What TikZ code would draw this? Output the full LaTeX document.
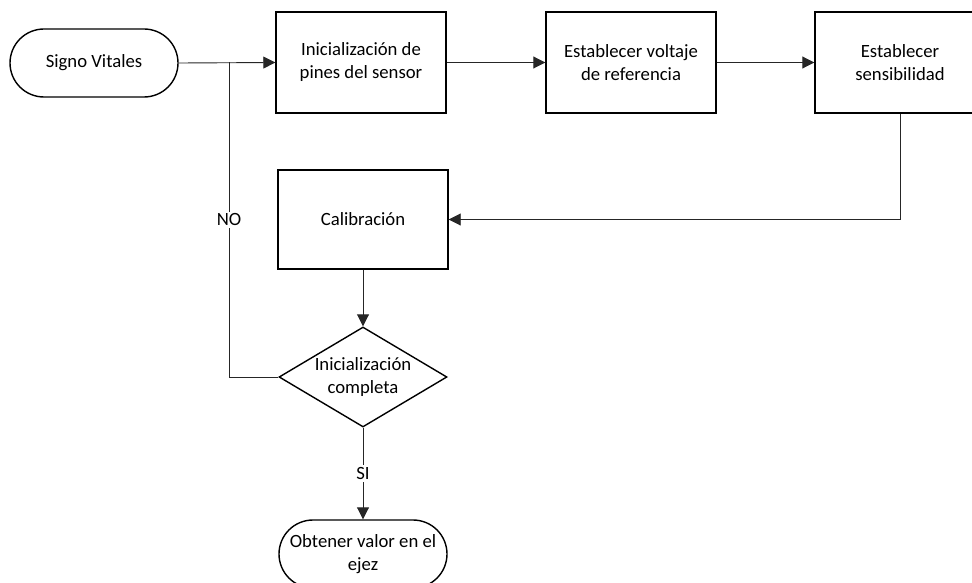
\documentclass[tikz,border=0pt]{standalone}
\usepackage{fontspec}
\setmainfont{Carlito}
\usetikzlibrary{arrows.meta,shapes.geometric}
\begin{document}
\begin{tikzpicture}[x=1pt,y=-1pt,
  every node/.style={font=\fontsize{18.7}{23}\selectfont, align=center},
  stepbox/.style={draw, line width=1.4pt, minimum width=170pt, minimum height=101pt, inner sep=0pt},
  term/.style={draw, line width=1.4pt, rounded corners=34pt, minimum width=168pt, minimum height=68pt, inner sep=0pt},
  decision/.style={draw, diamond, line width=1.4pt, minimum width=168pt, minimum height=100pt, inner sep=0pt},
  link/.style={line width=0.9pt, draw=black!85},
  arrow/.style={link, -{Triangle[length=12pt,width=12pt]}},
  tag/.style={fill=white, inner sep=2pt}]
\useasboundingbox (0,0) rectangle (972,583);
\clip (0,0) rectangle (972,583);

% process chain
\node[term] (start) at (94,63) {Signo Vitales};
\node[stepbox] (pins) at (361,62.5) {Inicialización de\\pines del sensor};
\node[stepbox] (vref) at (631,62.5) {Establecer voltaje\\de referencia};
\node[stepbox] (sens) at (900,62.5) {Establecer\\sensibilidad};
\node[stepbox, minimum height=99pt] (cal) at (363,219.5) {Calibración};
\node[decision] (dec) at (363,377) {};
\node at (dec) {Inicialización\\completa};
\node[term] (done) at (363,554) {Obtener valor en el\\ejez};
\coordinate (nox) at (229,0);

% connectors
\draw[arrow] (start.east) -- (pins.west);
\draw[arrow] (pins.east) -- (vref.west);
\draw[arrow] (vref.east) -- (sens.west);
\draw[arrow] (sens.south) -- (sens.south |- cal.east) -- (cal.east);
\draw[arrow] (cal.south) -- (dec.north);
\draw[link] (dec.west) -- (nox |- dec.west)
  -- node[tag] {NO} (nox |- pins.west);
\draw[arrow] (dec.south) -- node[tag] {SI} (done.north);
\end{tikzpicture}
\end{document}
